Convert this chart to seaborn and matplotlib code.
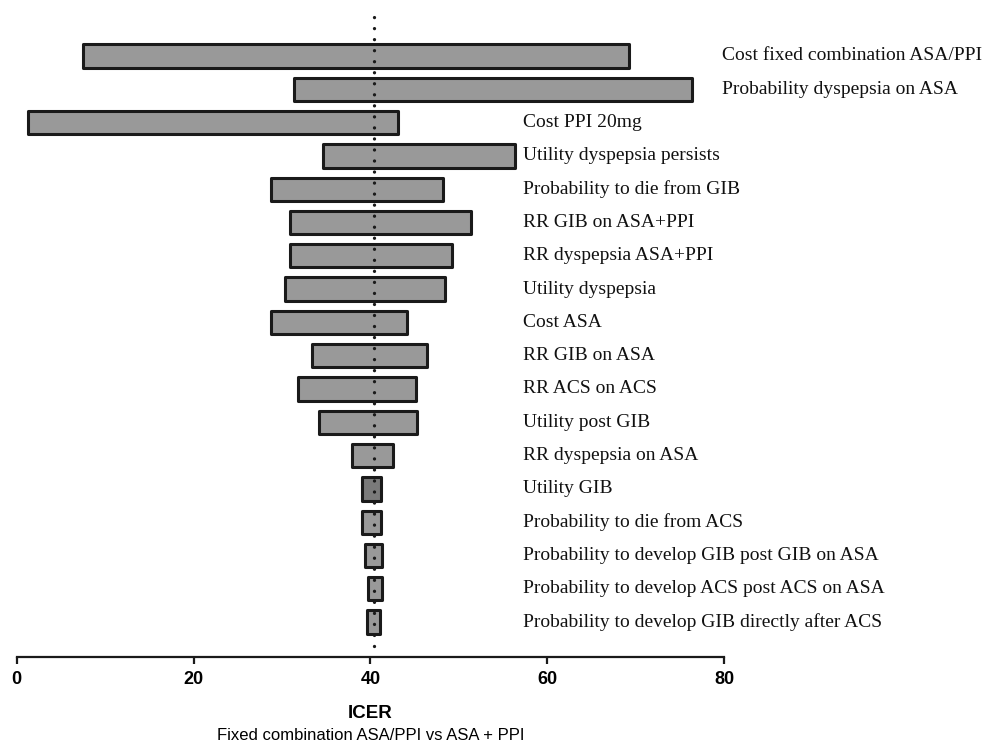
import numpy as np
import pandas as pd
import seaborn as sns
import matplotlib.pyplot as plt

# parameters in the tornado, top to bottom
params = [
    "Cost fixed combination ASA/PPI",
    "Probability dyspepsia on ASA",
    "Cost PPI 20mg",
    "Utility dyspepsia persists",
    "Probability to die from GIB",
    "RR GIB on ASA+PPI",
    "RR dyspepsia ASA+PPI",
    "Utility dyspepsia",
    "Cost ASA",
    "RR GIB on ASA",
    "RR ACS on ACS",
    "Utility post GIB",
    "RR dyspepsia on ASA",
    "Utility GIB",
    "Probability to die from ACS",
    "Probability to develop GIB post GIB on ASA",
    "Probability to develop ACS post ACS on ASA",
    "Probability to develop GIB directly after ACS",
]
# ICER at the low / high end of each parameter range
low = [7.5, 31.4, 1.3, 34.6, 28.8, 30.9, 30.9, 30.3, 28.8, 33.4,
       31.8, 34.2, 37.9, 39.1, 39.1, 39.4, 39.7, 39.6]
high = [69.2, 76.4, 43.1, 56.3, 48.2, 51.4, 49.2, 48.4, 44.1, 46.4,
        45.2, 45.3, 42.5, 41.2, 41.2, 41.3, 41.3, 41.1]
base_icer = 40.4
x_ticks = [0, 20, 40, 60, 80]

df = pd.DataFrame({"param": params, "low": low, "high": high})
df["span"] = df["high"] - df["low"]

sns.set_style("ticks")
plt.rcParams["font.family"] = ["Liberation Sans", "DejaVu Sans"]
plt.rcParams["text.color"] = "black"

fig = plt.figure(figsize=(10.02, 7.45), dpi=100)
ax = fig.add_axes([0.0167, 0.118, 0.706, 0.8686])

colors = ["#999999"] * len(df)
colors[params.index("Utility GIB")] = "#7a7a7a"

sns.barplot(data=df, x="span", y="param", hue="param", palette=colors,
            legend=False, width=0.7, edgecolor="#1a1a1a", linewidth=2.2,
            saturation=1, ax=ax)

# move each bar so it starts at its low value
for patch, lo in zip(ax.patches, df["low"]):
    patch.set_x(lo)
    patch.set_joinstyle("round")

# parameter labels to the right of the bars
for i, row in df.iterrows():
    lx = 79.8 if row["high"] > 60 else 57.3
    ax.text(lx, i, row["param"], va="center", ha="left",
            fontfamily="Liberation Serif", fontsize=14, color="#111111")

ax.axvline(base_icer, ymin=0.017, ymax=1, color="#1a1a1a", lw=2.4,
           linestyle=(0, (0.01, 3.3)), dash_capstyle="round", zorder=5)

ax.set_xlim(0, 80)
ax.set_ylim(18.05, -1.38)
ax.set_xticks(x_ticks)
ax.set_xticklabels([str(t) for t in x_ticks], fontweight="bold", fontsize=13,
                   color="black")
ax.set_yticks([])
ax.set_xlabel("")
ax.set_ylabel("")
sns.despine(ax=ax, left=True)
ax.spines["bottom"].set_linewidth(1.6)
ax.spines["bottom"].set_color("#1a1a1a")
ax.tick_params(axis="x", length=5, width=1.6, color="#1a1a1a", pad=5)

ax.text(0.5, -0.0866, "ICER", transform=ax.transAxes, ha="center",
        va="center", fontweight="bold", fontsize=13.5)
ax.text(0.5, -0.1206, "Fixed combination ASA/PPI vs ASA + PPI",
        transform=ax.transAxes, ha="center", va="center", fontsize=12)

fig.savefig("out.png", dpi=100)
